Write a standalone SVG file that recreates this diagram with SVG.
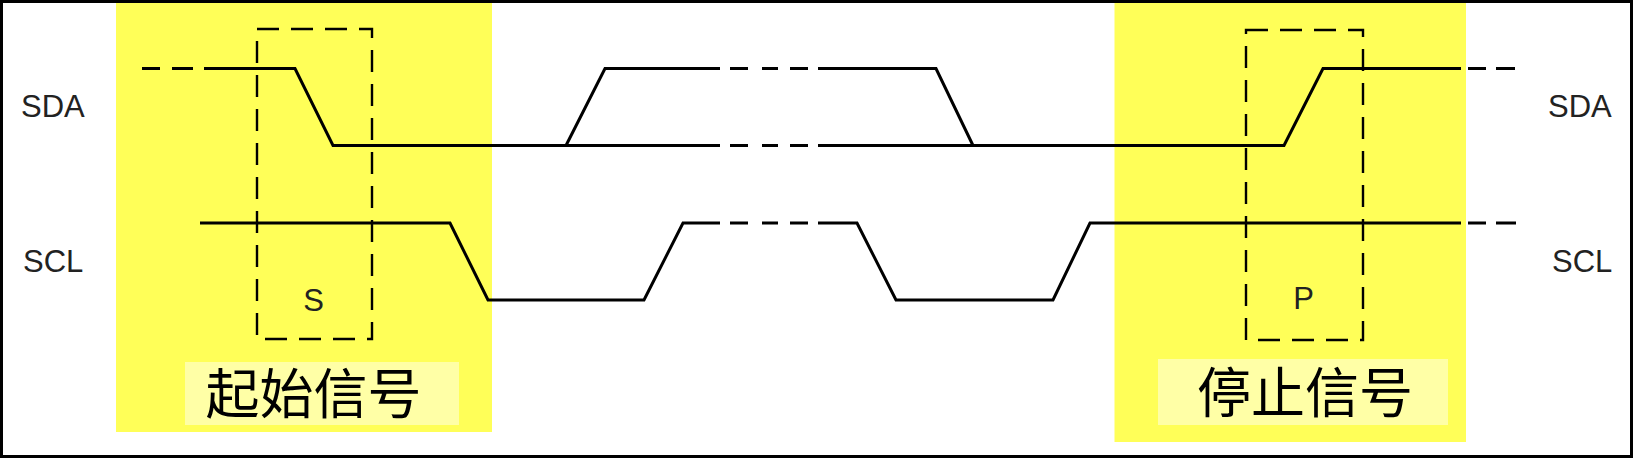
<svg xmlns="http://www.w3.org/2000/svg" width="1633" height="458" viewBox="0 0 1633 458">
  <style>
    .hl { fill: #ffff58; }
    .lbl-bg { fill: #ffffa6; }
    .wave { fill: none; stroke: #000; stroke-width: 3; stroke-linejoin: miter; stroke-linecap: butt; }
    .box { fill: none; stroke: #000; stroke-width: 2.4; stroke-dasharray: 22 12; }
    .sig { font-family: "Liberation Sans", Arial, sans-serif; font-size: 31px; fill: #222; }
    .cn { font-family: "Noto Sans CJK SC", sans-serif; font-size: 54px; fill: #000; text-anchor: middle; }
  </style>
  <rect x="0" y="0" width="1633" height="458" fill="#fff"/>

  <g id="start-region">
    <rect class="hl" x="116" y="0" width="376" height="432"/>
    <rect class="lbl-bg" x="185" y="362" width="274" height="63"/>
    <text class="cn" x="313.5" y="414">起始信号</text>
  </g>
  <g id="stop-region">
    <rect class="hl" x="1114.5" y="0" width="351.5" height="442"/>
    <rect class="lbl-bg" x="1158" y="359" width="290" height="66"/>
    <text class="cn" x="1305" y="413">停止信号</text>
  </g>

  <g id="start-box">
    <rect class="box" x="257" y="29" width="115" height="310"/>
    <text class="sig" x="313.5" y="311" text-anchor="middle">S</text>
  </g>
  <g id="stop-box">
    <rect class="box" x="1246" y="30" width="117" height="310"/>
    <text class="sig" x="1303.5" y="309" text-anchor="middle">P</text>
  </g>

  <g id="labels">
    <text class="sig" x="21" y="117">SDA</text>
    <text class="sig" x="23" y="272">SCL</text>
    <text class="sig" x="1548" y="117">SDA</text>
    <text class="sig" x="1552" y="272">SCL</text>
  </g>

  <g id="connectors">
    <!-- SDA -->
    <path class="wave" d="M142,68.5 H160 M172,68.5 H193"/>
    <path class="wave" d="M204,68.5 H295 L333,145.5 H720"/>
    <path class="wave" d="M730,145.5 H748 M762,145.5 H778 M790,145.5 H808"/>
    <path class="wave" d="M818,145.5 H1284 L1323,68.5 H1461"/>
    <path class="wave" d="M1468,68.5 H1486 M1496,68.5 H1515"/>
    <path class="wave" d="M566,145.5 L605,68.5 H720"/>
    <path class="wave" d="M730,68.5 H748 M762,68.5 H778 M790,68.5 H808"/>
    <path class="wave" d="M818,68.5 H936 L973,145.5"/>
    <!-- SCL -->
    <path class="wave" d="M200,223 H450 L488,300 H644 L683,223 H720"/>
    <path class="wave" d="M730,223 H748 M762,223 H778 M790,223 H808"/>
    <path class="wave" d="M818,223 H857 L896,300 H1053 L1090,223 H1461"/>
    <path class="wave" d="M1468,223 H1486 M1496,223 H1516"/>
  </g>

  <rect x="1.5" y="1.5" width="1630" height="455" fill="none" stroke="#000" stroke-width="3"/>
</svg>
